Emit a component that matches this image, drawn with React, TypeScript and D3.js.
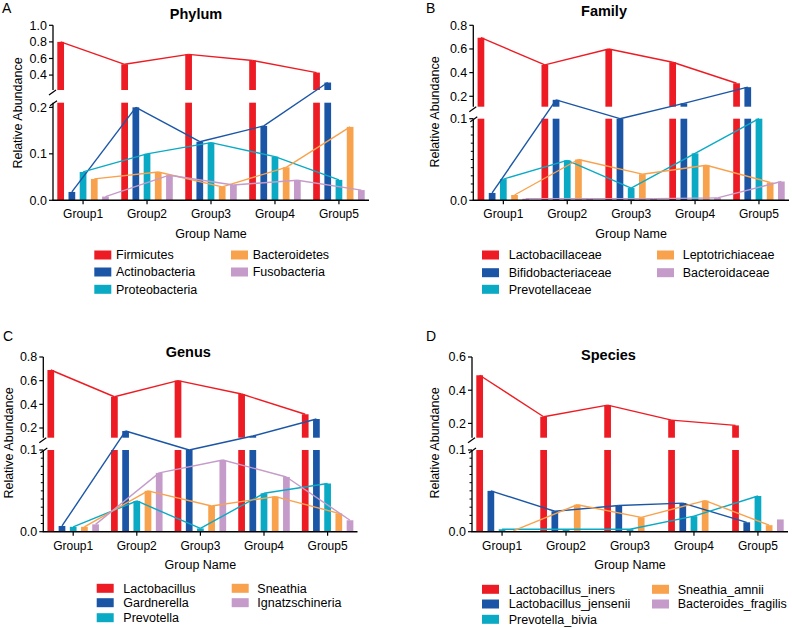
import React from 'react';
import * as d3 from 'd3';

const groups = ['Group1', 'Group2', 'Group3', 'Group4', 'Group5'];
const colors = ['#ED1C24', '#1B56A6', '#0AAAC5', '#F9A24D', '#C59BCA'];

const phylumNames = ['Firmicutes', 'Actinobacteria', 'Proteobacteria', 'Bacteroidetes', 'Fusobacteria'];
const phylumValues = [
  [0.8, 0.53, 0.65, 0.575, 0.43],
  [0.018, 0.2, 0.126, 0.16, 0.31],
  [0.061, 0.1, 0.124, 0.094, 0.044],
  [0.046, 0.061, 0.029, 0.071, 0.158],
  [0.008, 0.054, 0.033, 0.043, 0.022],
];
const phylumUpperTicks = [0.4, 0.6, 0.8, 1.0];
const phylumLowerTicks = [0, 0.1, 0.2];

const familyNames = ['Lactobacillaceae', 'Bifidobacteriaceae', 'Prevotellaceae', 'Leptotrichiaceae', 'Bacteroidaceae'];
const familyValues = [
  [0.695, 0.465, 0.6, 0.488, 0.31],
  [0.009, 0.17, 0.1, 0.14, 0.277],
  [0.026, 0.049, 0.015, 0.0575, 0.1],
  [0.0065, 0.05, 0.032, 0.043, 0.022],
  [0.002, 0.002, 0.002, 0.003, 0.023],
];
const familyUpperTicks = [0.2, 0.4, 0.6, 0.8];
const familyLowerTicks = [0, 0.1];

const genusNames = ['Lactobacillus', 'Gardnerella', 'Prevotella', 'Sneathia', 'Ignatzschineria'];
const genusValues = [
  [0.69, 0.464, 0.6, 0.487, 0.316],
  [0.007, 0.175, 0.1, 0.132, 0.276],
  [0.006, 0.0376, 0.004, 0.047, 0.059],
  [0.006, 0.05, 0.0315, 0.043, 0.0225],
  [0.009, 0.072, 0.0877, 0.067, 0.014],
];
const genusUpperTicks = [0.2, 0.4, 0.6, 0.8];
const genusLowerTicks = [0, 0.1];

const speciesNames = ['Lactobacillus_iners', 'Lactobacillus_jensenii', 'Prevotella_bivia', 'Sneathia_amnii', 'Bacteroides_fragilis'];
const speciesValues = [
  [0.49, 0.24, 0.31, 0.22, 0.188],
  [0.05, 0.025, 0.032, 0.035, 0.0115],
  [0.003, 0.003, 0.003, 0.019, 0.0437],
  [0.001, 0.033, 0.0176, 0.038, 0.008],
  [0, 0, 0, 0, 0.015],
];
const speciesUpperTicks = [0.2, 0.4, 0.6];
const speciesLowerTicks = [0, 0.1];

const FONT = 'Liberation Sans, Arial, sans-serif';

const panels = [
  {
    letter: 'A', title: 'Phylum', names: phylumNames, values: phylumValues,
    upperTicks: phylumUpperTicks, lowerTicks: phylumLowerTicks,
    upperDomain: [0.22, 1.0], lowerMax: 0.21, minor: false,
    L: {
      ax: 53, xEnd: 369, yTop: 25.3, yUB: 90, yLT: 102.7, yBase: 200.3,
      letterX: 2, letterY: 13, titleX: 196, titleY: 19, ytX: 18, ytY: 113,
      groupY: 218, xTitleY: 238, rows: [255, 272, 289.3],
      sw: [94.3, 231], tx: [116, 252.7],
    },
  },
  {
    letter: 'B', title: 'Family', names: familyNames, values: familyValues,
    upperTicks: familyUpperTicks, lowerTicks: familyLowerTicks,
    upperDomain: [0.112, 0.8], lowerMax: 0.1, minor: true,
    L: {
      ax: 473.3, xEnd: 789, yTop: 25.3, yUB: 106.7, yLT: 118.7, yBase: 200.3,
      letterX: 426, letterY: 13, titleX: 604, titleY: 15.5, ytX: 435, ytY: 112,
      groupY: 218, xTitleY: 238, rows: [255, 272.7, 289.3],
      sw: [482, 657], tx: [508.7, 682.7],
    },
  },
  {
    letter: 'C', title: 'Genus', names: genusNames, values: genusValues,
    upperTicks: genusUpperTicks, lowerTicks: genusLowerTicks,
    upperDomain: [0.118, 0.8], lowerMax: 0.1, minor: true,
    L: {
      ax: 43.3, xEnd: 357.5, yTop: 357, yUB: 437.7, yLT: 450, yBase: 531.7,
      letterX: 3, letterY: 341, titleX: 188.3, titleY: 356.7, ytX: 8.5, ytY: 443,
      groupY: 549.5, xTitleY: 569, rows: [588.3, 602.7, 617.7],
      sw: [96.7, 231.7], tx: [123.3, 257.3],
    },
  },
  {
    letter: 'D', title: 'Species', names: speciesNames, values: speciesValues,
    upperTicks: speciesUpperTicks, lowerTicks: speciesLowerTicks,
    upperDomain: [0.114, 0.6], lowerMax: 0.1, minor: true,
    L: {
      ax: 472, xEnd: 788, yTop: 357, yUB: 437.7, yLT: 450, yBase: 531.7,
      letterX: 426, letterY: 341, titleX: 608.5, titleY: 360, ytX: 435, ytY: 443,
      groupY: 549.5, xTitleY: 569, rows: [589.3, 604, 619.3],
      sw: [482, 652], tx: [508.7, 677.7],
    },
  },
];

function Panel({ p }: { p: any }) {
  const L = p.L;
  const x = d3.scalePoint<string>().domain(groups).range([L.ax, L.xEnd]).padding(0.47);
  const band = d3.scaleBand<number>().domain(d3.range(5)).range([-28, 28]).paddingInner(0.4).paddingOuter(0.2);
  const bw = band.bandwidth();
  const yU = d3.scaleLinear().domain(p.upperDomain).range([L.yUB, L.yTop]);
  const yL = d3.scaleLinear().domain([0, p.lowerMax]).range([L.yBase, L.yLT]);
  const fmt = d3.format('.1f');
  const pointY = (v: number) => (v <= p.lowerMax ? yL(v) : v >= p.upperDomain[0] ? yU(v) : L.yLT);
  const cx = (g: string, s: number) => (x(g) as number) + (band(s) as number) + bw / 2;

  const bars: any[] = [];
  const lines: any[] = [];
  p.values.forEach((vals: number[], s: number) => {
    vals.forEach((v: number, gi: number) => {
      const g = groups[gi];
      const bx = (x(g) as number) + (band(s) as number);
      if (v > 0) {
        const yl = yL(Math.min(v, p.lowerMax));
        bars.push(<rect key={`l${s}-${gi}`} x={bx} y={yl} width={bw} height={L.yBase - yl} fill={colors[s]} />);
        if (v > p.upperDomain[0]) {
          const yu = yU(v);
          bars.push(<rect key={`u${s}-${gi}`} x={bx} y={yu} width={bw} height={L.yUB - yu} fill={colors[s]} />);
        }
      }
      if (gi > 0) {
        const pv = vals[gi - 1];
        if (pv > 0 && v > 0) {
          lines.push(
            <line key={`ln${s}-${gi}`} x1={cx(groups[gi - 1], s)} y1={pointY(pv)} x2={cx(g, s)} y2={pointY(v)}
              stroke={colors[s]} strokeWidth={1.4} />
          );
        }
      }
    });
  });

  const minorTicks = p.minor ? d3.range(1, 10).map((i) => i * 0.01) : [];

  return (
    <g fontFamily={FONT}>
      <text x={L.letterX} y={L.letterY} fontSize={14}>{p.letter}</text>
      <text x={L.titleX} y={L.titleY} fontSize={14.5} fontWeight="bold" textAnchor="middle">{p.title}</text>
      <text transform={`translate(${L.ytX},${L.ytY}) rotate(-90)`} fontSize={12.5} textAnchor="middle" dy="0.35em">Relative Abundance</text>
      {bars}
      {lines}
      <line x1={L.ax} x2={L.ax} y1={L.yTop} y2={L.yUB} stroke="#000" strokeWidth={1.3} />
      <line x1={L.ax} x2={L.ax} y1={L.yLT} y2={L.yBase} stroke="#000" strokeWidth={1.3} />
      <line x1={L.ax - 4} x2={L.ax + 3} y1={L.yUB + 5} y2={L.yUB} stroke="#000" strokeWidth={1.2} />
      <line x1={L.ax - 3} x2={L.ax + 4} y1={L.yLT + 3} y2={L.yLT - 2} stroke="#000" strokeWidth={1.2} />
      {p.upperTicks.map((t: number) => (
        <g key={`ut${t}`}>
          <line x1={L.ax - 4} x2={L.ax} y1={yU(t)} y2={yU(t)} stroke="#000" strokeWidth={1.2} />
          <text x={L.ax - 6} y={yU(t)} dy="0.35em" fontSize={12.5} textAnchor="end">{fmt(t)}</text>
        </g>
      ))}
      {p.lowerTicks.map((t: number) => (
        <g key={`lt${t}`}>
          <line x1={L.ax - 4} x2={L.ax} y1={yL(t)} y2={yL(t)} stroke="#000" strokeWidth={1.2} />
          <text x={L.ax - 6} y={yL(t)} dy="0.35em" fontSize={12.5} textAnchor="end">{fmt(t)}</text>
        </g>
      ))}
      {minorTicks.map((t: number) => (
        <line key={`mt${t}`} x1={L.ax - 2.5} x2={L.ax} y1={yL(t)} y2={yL(t)} stroke="#000" strokeWidth={1} />
      ))}
      <line x1={L.ax - 0.6} x2={L.xEnd} y1={L.yBase} y2={L.yBase} stroke="#000" strokeWidth={1.4} />
      {groups.map((g) => (
        <g key={g}>
          <line x1={x(g)} x2={x(g)} y1={L.yBase} y2={L.yBase + 4} stroke="#000" strokeWidth={1.2} />
          <text x={x(g)} y={L.groupY} fontSize={12} textAnchor="middle">{g}</text>
        </g>
      ))}
      <text x={(L.ax + L.xEnd) / 2} y={L.xTitleY} fontSize={12.5} textAnchor="middle">Group Name</text>
      {p.names.map((n: string, i: number) => {
        const col = i < 3 ? 0 : 1;
        const row = i < 3 ? i : i - 3;
        const cy = L.rows[row];
        return (
          <g key={n}>
            <rect x={L.sw[col]} y={cy - 4.5} width={17} height={9} fill={colors[i]} />
            <text x={L.tx[col]} y={cy} dy="0.35em" fontSize={12.5}>{n}</text>
          </g>
        );
      })}
    </g>
  );
}

export default function App() {
  return (
    <svg width={792} height={628} style={{ position: 'fixed', left: 0, top: 0, display: 'block', background: '#fff' }}>
      <rect width={792} height={628} fill="#fff" />
      {panels.map((p) => (
        <Panel key={p.letter} p={p} />
      ))}
    </svg>
  );
}
